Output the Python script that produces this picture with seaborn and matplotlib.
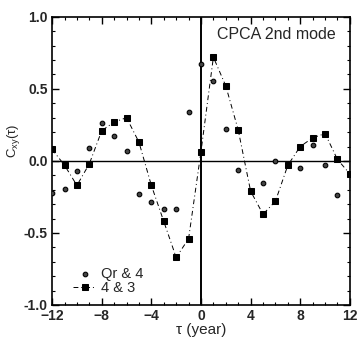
import numpy as np
import pandas as pd
import matplotlib
matplotlib.use("Agg")
import matplotlib.pyplot as plt
import seaborn as sns
from matplotlib.ticker import MultipleLocator

# lag in years
lags = list(range(-12, 13))

# Qr & 4 (circles)
qr4 = [-0.22, -0.195, -0.067, 0.09, 0.26, 0.17, 0.07, -0.23, -0.285, -0.335, -0.335, 0.34,
       0.67, 0.556, 0.22, -0.06, -0.21, -0.155, 0.0, -0.03, -0.046, 0.11, -0.03, -0.24, -0.09]

# 4 & 3 (squares)
c43 = [0.08, -0.03, -0.17, -0.02, 0.21, 0.27, 0.30, 0.13, -0.17, -0.42, -0.67, -0.54,
       0.065, 0.72, 0.52, 0.215, -0.21, -0.37, -0.28, -0.03, 0.10, 0.16, 0.19, 0.01, -0.09]

df = pd.DataFrame({"lag": lags, "Qr & 4": qr4, "4 & 3": c43})

sns.set_style("ticks")
plt.rcParams['font.family'] = ['Liberation Sans', 'DejaVu Sans']
plt.rcParams['mathtext.fontset'] = 'custom'
plt.rcParams['mathtext.rm'] = 'Liberation Sans'
plt.rcParams['mathtext.it'] = 'Liberation Sans'

fig = plt.figure(figsize=(3.57, 3.37), dpi=100)
ax = fig.add_axes([0.146, 0.095, 0.834, 0.855])

ax.axhline(0, color="black", lw=1.0, zorder=1)
ax.axvline(0, color="black", lw=1.4, zorder=1)

sns.scatterplot(data=df, x="lag", y="Qr & 4", ax=ax, marker="o", s=11,
                color="#444444", edgecolor="black", linewidth=0.8,
                label="Qr & 4", zorder=3)
sns.lineplot(data=df, x="lag", y="4 & 3", ax=ax, marker="s", markersize=4.5,
             color="black", linestyle=(0, (5, 3, 1, 3)), lw=0.7,
             markeredgecolor="black", label="4 & 3", zorder=3)

ax.set_xlim(-12, 12)
ax.set_ylim(-1, 1)
ax.xaxis.set_major_locator(MultipleLocator(4))
ax.xaxis.set_minor_locator(MultipleLocator(1))
ax.yaxis.set_major_locator(MultipleLocator(0.5))
ax.yaxis.set_minor_locator(MultipleLocator(0.1))
ax.tick_params(which="both", direction="in", top=True, right=True, color="black")
ax.tick_params(which="major", length=5, width=1, labelsize=10, pad=3)
ax.tick_params(which="minor", length=2.5, width=0.8)
for lab in ax.get_xticklabels() + ax.get_yticklabels():
    lab.set_fontweight("bold")
ax.yaxis.set_major_formatter(matplotlib.ticker.FormatStrFormatter("%.1f"))
for s in ax.spines.values():
    s.set_linewidth(1.2)
    s.set_color("black")

ax.set_xlabel("τ (year)", fontsize=11, labelpad=0)
ax.set_ylabel("C$_{xy}$(τ)", fontsize=9.5, labelpad=4)
ax.yaxis.set_label_coords(-0.10, 0.57)
ax.text(0.555, 0.94, "CPCA 2nd mode", transform=ax.transAxes, fontsize=11.5,
        ha="left", va="center")

ax.legend(loc="lower left", frameon=False, fontsize=10.5, handlelength=1.6,
          handletextpad=0.3, borderaxespad=0.0, labelspacing=0.0,
          bbox_to_anchor=(0.05, 0.015))

fig.savefig("out.png", dpi=100)
